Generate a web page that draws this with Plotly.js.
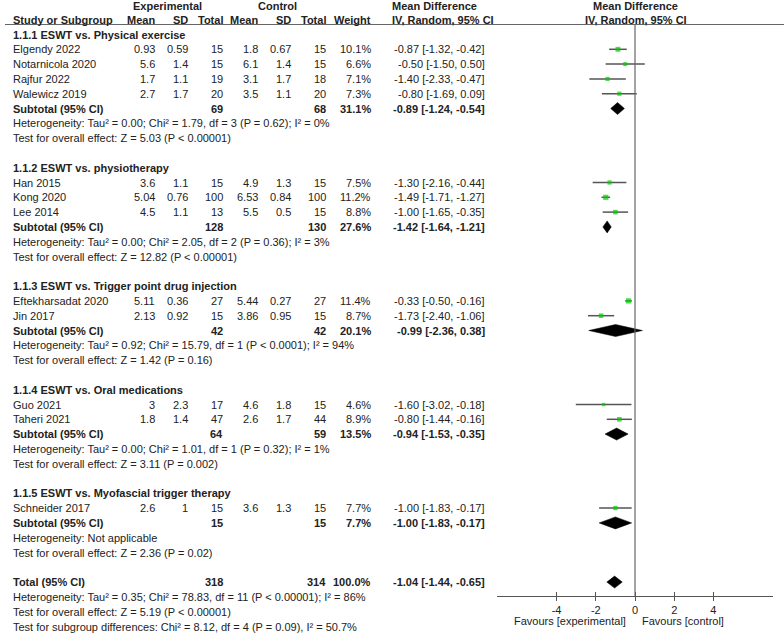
<!DOCTYPE html>
<html>
<head>
<meta charset="utf-8">
<script src="https://cdn.plot.ly/plotly-3.0.1.min.js"></script>
<style>html,body{margin:0;padding:0;background:#fff;}#chart{width:784px;height:634px;}</style>
</head>
<body>
<div id="chart"></div>
<script>
// ---------- data ----------
const groupNames = ['1.1.1 ESWT vs. Physical exercise','1.1.2 ESWT vs. physiotherapy','1.1.3 ESWT vs. Trigger point drug injection','1.1.4 ESWT vs. Oral medications','1.1.5 ESWT vs. Myofascial trigger therapy'];
const studies = ['Elgendy 2022','Notarnicola 2020','Rajfur 2022','Walewicz 2019','Han 2015','Kong 2020','Lee 2014','Eftekharsadat 2020','Jin 2017','Guo 2021','Taheri 2021','Schneider 2017'];
const studyGroup = [0,0,0,0,1,1,1,2,2,3,3,4];
const expMean = [0.93,5.6,1.7,2.7,3.6,5.04,4.5,5.11,2.13,3,1.8,2.6];
const expSD = [0.59,1.4,1.1,1.7,1.1,0.76,1.1,0.36,0.92,2.3,1.4,1];
const expN = [15,15,19,20,15,100,13,27,15,17,47,15];
const ctlMean = [1.8,6.1,3.1,3.5,4.9,6.53,5.5,5.44,3.86,4.6,2.6,3.6];
const ctlSD = [0.67,1.4,1.7,1.1,1.3,0.84,0.5,0.27,0.95,1.8,1.7,1.3];
const ctlN = [15,15,18,20,15,100,15,27,15,15,44,15];
const weight = [10.1,6.6,7.1,7.3,7.5,11.2,8.8,11.4,8.7,4.6,8.9,7.7];
const md = [-0.87,-0.50,-1.40,-0.80,-1.30,-1.49,-1.00,-0.33,-1.73,-1.60,-0.80,-1.00];
const lo = [-1.32,-1.50,-2.33,-1.69,-2.16,-1.71,-1.65,-0.50,-2.40,-3.02,-1.44,-1.83];
const hi = [-0.42,0.50,-0.47,0.09,-0.44,-1.27,-0.35,-0.16,-1.06,-0.18,-0.16,-0.17];

const subExpN = [69,128,42,64,15];
const subCtlN = [68,130,42,59,15];
const subWeight = [31.1,27.6,20.1,13.5,7.7];
const subMD = [-0.89,-1.42,-0.99,-0.94,-1.00];
const subLo = [-1.24,-1.64,-2.36,-1.53,-1.83];
const subHi = [-0.54,-1.21,0.38,-0.35,-0.17];
const subHet = ['Heterogeneity: Tau² = 0.00; Chi² = 1.79, df = 3 (P = 0.62); I² = 0%',
  'Heterogeneity: Tau² = 0.00; Chi² = 2.05, df = 2 (P = 0.36); I² = 3%',
  'Heterogeneity: Tau² = 0.92; Chi² = 15.79, df = 1 (P < 0.0001); I² = 94%',
  'Heterogeneity: Tau² = 0.00; Chi² = 1.01, df = 1 (P = 0.32); I² = 1%',
  'Heterogeneity: Not applicable'];
const subTest = ['Test for overall effect: Z = 5.03 (P < 0.00001)',
  'Test for overall effect: Z = 12.82 (P < 0.00001)',
  'Test for overall effect: Z = 1.42 (P = 0.16)',
  'Test for overall effect: Z = 3.11 (P = 0.002)',
  'Test for overall effect: Z = 2.36 (P = 0.02)'];

const totalExpN = 318, totalCtlN = 314, totalWeight = 100.0;
const totalMD = -1.04, totalLo = -1.44, totalHi = -0.65;
const totalHet = 'Heterogeneity: Tau² = 0.35; Chi² = 78.83, df = 11 (P < 0.00001); I² = 86%';
const totalTest = 'Test for overall effect: Z = 5.19 (P < 0.00001)';
const subgroupTest = 'Test for subgroup differences: Chi² = 8.12, df = 4 (P = 0.09), I² = 50.7%';

const tickVals = [-4,-2,0,2,4];
const tickText = ['-4','-2','0','2','4'];
const favLeft = 'Favours [experimental]';
const favRight = 'Favours [control]';

// ---------- layout constants ----------
const W = 784, H = 634;
const ROW0 = 34.5, STEP = 14.8;
const AXIS_Y = 596;
const FONT = 'Liberation Sans, Arial, sans-serif';
const TXT = '#222';
const COL = {name:11, eMean:157, eSD:190, eN:225, cMean:260, cSD:293, cN:328, w:373, ci:487};

const ann = [];
function txt(px, y, s, anchor, bold, size) {
  ann.push({xref:'paper', yref:'y', x:px/W, y:y, text: bold ? '<b>'+s+'</b>' : s,
    xanchor:anchor, yanchor:'middle', showarrow:false,
    font:{family:FONT, size:size||11, color:TXT}});
}
const ciStr = (m,l,h) => m.toFixed(2)+' ['+l.toFixed(2)+', '+h.toFixed(2)+']';

// headers
txt(167.5, 6, 'Experimental', 'center', true);
txt(277, 6, 'Control', 'center', true);
txt(390, 6, 'Mean Difference', 'left', true);
txt(635, 6, 'Mean Difference', 'center', true);
txt(COL.name, 19.5, 'Study or Subgroup', 'left', true);
txt(COL.eMean, 19.5, 'Mean', 'right', true);
txt(COL.eSD, 19.5, 'SD', 'right', true);
txt(COL.eN, 19.5, 'Total', 'right', true);
txt(COL.cMean, 19.5, 'Mean', 'right', true);
txt(COL.cSD, 19.5, 'SD', 'right', true);
txt(COL.cN, 19.5, 'Total', 'right', true);
txt(COL.w, 19.5, 'Weight', 'right', true);
txt(390, 19.5, 'IV, Random, 95% CI', 'left', true);
txt(636, 19.5, 'IV, Random, 95% CI', 'center', true);

// rows
let row = 0;
const yOf = r => ROW0 + r*STEP;
const sY = [], sizes = [];
const dX = [], dY = [];
function diamond(m,l,h,y) {
  dX.push(l, m, h, m, l, null);
  dY.push(y, y-6, y, y+6, y, null);
}
for (let g = 0; g < groupNames.length; g++) {
  txt(COL.name, yOf(row), groupNames[g], 'left', true); row++;
  for (let i = 0; i < studies.length; i++) {
    if (studyGroup[i] !== g) continue;
    const y = yOf(row);
    txt(COL.name, y, studies[i], 'left', false);
    txt(COL.eMean, y, String(expMean[i]), 'right');
    txt(COL.eSD, y, String(expSD[i]), 'right');
    txt(COL.eN, y, String(expN[i]), 'right');
    txt(COL.cMean, y, String(ctlMean[i]), 'right');
    txt(COL.cSD, y, String(ctlSD[i]), 'right');
    txt(COL.cN, y, String(ctlN[i]), 'right');
    txt(COL.w, y, weight[i].toFixed(1)+'%', 'right');
    txt(COL.ci, y, ciStr(md[i], lo[i], hi[i]), 'right');
    sY[i] = y;
    row++;
  }
  const ys = yOf(row);
  txt(COL.name, ys, 'Subtotal (95% CI)', 'left', true);
  txt(COL.eN, ys, String(subExpN[g]), 'right', true);
  txt(COL.cN, ys, String(subCtlN[g]), 'right', true);
  txt(COL.w, ys, subWeight[g].toFixed(1)+'%', 'right', true);
  txt(COL.ci, ys, ciStr(subMD[g], subLo[g], subHi[g]), 'right', true);
  diamond(subMD[g], subLo[g], subHi[g], ys);
  row++;
  txt(COL.name, yOf(row), subHet[g], 'left'); row++;
  txt(COL.name, yOf(row), subTest[g], 'left'); row++;
  row++; // blank
}
const yt = yOf(row);
txt(COL.name, yt, 'Total (95% CI)', 'left', true);
txt(COL.eN, yt, String(totalExpN), 'right', true);
txt(COL.cN, yt, String(totalCtlN), 'right', true);
txt(COL.w, yt, totalWeight.toFixed(1)+'%', 'right', true);
txt(COL.ci, yt, ciStr(totalMD, totalLo, totalHi), 'right', true);
diamond(totalMD, totalLo, totalHi, yt);
row++;
txt(COL.name, yOf(row), totalHet, 'left'); row++;
txt(COL.name, yOf(row), totalTest, 'left'); row++;
txt(COL.name, yOf(row), subgroupTest, 'left'); row++;

// favours labels
txt(628, 620.5, favLeft, 'right', false);
txt(640, 620.5, favRight, 'left', false);

// ---------- traces ----------
const ciTrace = {
  x: md, y: sY, type:'scatter', mode:'markers',
  marker:{symbol:'square', color:'#00cc00', size: weight.map(w => 1.55*Math.sqrt(w)), line:{width:0}},
  error_x:{type:'data', symmetric:false, array: hi.map((h,i)=>h-md[i]), arrayminus: lo.map((l,i)=>md[i]-l),
    color:'#555', thickness:1.5, width:0},
  hoverinfo:'skip', showlegend:false, cliponaxis:false
};
const diaTrace = {
  x: dX, y: dY, type:'scatter', mode:'lines', fill:'toself', fillcolor:'#000',
  line:{color:'#000', width:0.5}, hoverinfo:'skip', showlegend:false
};
const dummy = {x:[], y:[], xaxis:'x2', yaxis:'y', type:'scatter', showlegend:false};

const xDom = [497/W, 773/W];
const xRange = [-7.04, 7.04];
const axPos = 1 - AXIS_Y/H;

const layout = {
  width:W, height:H, margin:{l:0,r:0,t:0,b:0,pad:0},
  paper_bgcolor:'#fff', plot_bgcolor:'rgba(0,0,0,0)', showlegend:false,
  xaxis:{domain:xDom, range:xRange, anchor:'free', position:axPos,
    tickmode:'array', tickvals:tickVals, ticktext:tickText, ticks:'outside', ticklen:4, tickwidth:1, tickcolor:'#555',
    showline:true, linecolor:'#555', linewidth:1, showgrid:false, zeroline:false,
    tickfont:{family:FONT, size:11, color:TXT}, fixedrange:true},
  xaxis2:{domain:xDom, range:xRange, overlaying:'x', anchor:'free', position:axPos,
    tickmode:'array', tickvals:tickVals, ticks:'inside', ticklen:4, tickwidth:1, tickcolor:'#555',
    showticklabels:false, showline:false, showgrid:false, zeroline:false},
  yaxis:{domain:[0,1], range:[H,0], visible:false, showgrid:false, zeroline:false, fixedrange:true},
  shapes:[
    {type:'line', xref:'paper', yref:'y', x0:5/W, x1:1, y0:24.5, y1:24.5, line:{color:'#666', width:1}},
    {type:'line', xref:'x', yref:'y', x0:0, x1:0, y0:24.5, y1:AXIS_Y, line:{color:'#666', width:1.2}}
  ],
  annotations: ann
};

Plotly.newPlot('chart', [diaTrace, ciTrace, dummy], layout, {staticPlot:true, displayModeBar:false});
</script>
</body>
</html>
